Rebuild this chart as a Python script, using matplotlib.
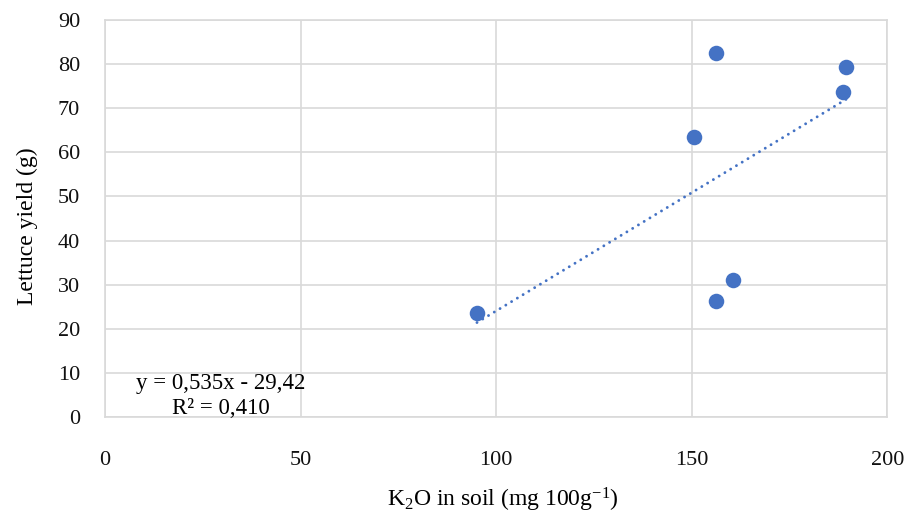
import matplotlib.pyplot as plt
import numpy as np

plt.rcParams['font.family'] = ['Liberation Serif', 'DejaVu Serif']
plt.rcParams['mathtext.fontset'] = 'custom'
plt.rcParams['mathtext.rm'] = 'Liberation Serif'
plt.rcParams['mathtext.it'] = 'Liberation Serif:italic'
plt.rcParams['mathtext.default'] = 'rm'

# dados
k2o_soil = [95.1, 150.5, 156.1, 189.5, 188.6, 160.5, 156.1]
lettuce_yield = [23.7, 63.5, 82.5, 79.3, 73.5, 31.1, 26.4]

slope = 0.535
intercept = -29.42
r2_label = "R\u00b2 = 0,410"
eq_label = "y = 0,535x - 29,42"

x_ticks = [0, 50, 100, 150, 200]
y_ticks = [0, 10, 20, 30, 40, 50, 60, 70, 80, 90]

BLUE = "#4472C4"
GRID = "#d9d9d9"

fig = plt.figure(figsize=(9.05, 5.13), dpi=100)
ax = fig.add_axes([105 / 905, 1 - 417.4 / 513, (887.3 - 105) / 905, (417.4 - 19.5) / 513])

ax.scatter(k2o_soil, lettuce_yield, s=125, color=BLUE, zorder=3, linewidths=0)

# linha de tendencia
xt = np.array([min(k2o_soil), max(k2o_soil)])
ax.plot(xt, slope * xt + intercept, color=BLUE, lw=2.1, linestyle=(0, (0.01, 2.3)),
        dash_capstyle='round', zorder=2)

ax.set_xlim(0, 200)
ax.set_ylim(0, 90)
ax.set_xticks(x_ticks)
ax.set_yticks(y_ticks)
ax.grid(True, color=GRID, lw=1.2)
ax.set_axisbelow(True)
for s in ax.spines.values():
    s.set_color(GRID)
    s.set_linewidth(1.2)
ax.tick_params(length=0, labelsize=16, colors="#111111")
ax.tick_params(axis='x', pad=24)
ax.tick_params(axis='y', pad=18)

ax.text(221 / 905, 1 - 383 / 513, eq_label, transform=fig.transFigure, ha='center', va='center', fontsize=16.5)
ax.text(221 / 905, 1 - 408 / 513, r2_label, transform=fig.transFigure, ha='center', va='center', fontsize=16.5)

fig.text(503 / 905, 1 - 500 / 513, "K$_2$O in soil (mg 100g$^{-1}$)", ha='center', va='center', fontsize=17)
fig.text(27 / 905, 1 - 226 / 513, "Lettuce yield (g)", ha='center', va='center', rotation=90, fontsize=17)

fig.savefig("out.png", dpi=100)
